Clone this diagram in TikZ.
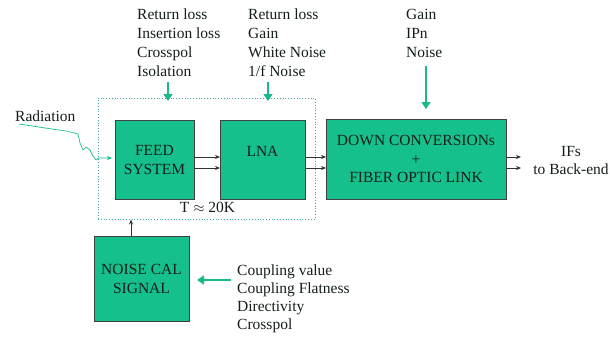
\documentclass[tikz,border=0pt]{standalone}
\usepackage{fontspec}
\setmainfont{Liberation Serif}
\usetikzlibrary{arrows.meta}
\definecolor{boxgreen}{RGB}{22,192,140}
\definecolor{teal2}{RGB}{25,185,140}
\definecolor{dotc}{RGB}{60,170,175}
\definecolor{txt}{RGB}{20,30,25}
\begin{document}
\begin{tikzpicture}[x=1pt,y=-1pt,
  blk/.style={draw=black!75,line width=0.8pt,fill=boxgreen,inner sep=0pt},
  btxt/.style={text=txt,font=\fontsize{15.5}{19}\selectfont,align=center,inner sep=0pt},
  lbl/.style={align=left,anchor=north west,text=txt,font=\fontsize{15.5}{19}\selectfont,inner sep=0pt},
  conn/.style={draw=black!80,line width=0.7pt,-{Stealth[length=5pt,width=4pt]}},
  ann/.style={draw=teal2,line width=1.6pt,-{Triangle[length=7pt,width=9pt]}}]
\useasboundingbox (0,0) rectangle (610,337);
% dotted enclosure
\node[draw=dotc,dotted,line width=0.8pt,minimum width=217pt,minimum height=121pt,inner sep=0pt] (encl) at (206.5,158.5) {};
% blocks
\node[blk,minimum width=79pt,minimum height=79pt] (feed) at (154.5,159.5) {};
\node[btxt] (feedt) at (154.5,159.5) {FEED\\SYSTEM};
\node[blk,minimum width=85pt,minimum height=79pt] (lna) at (262.5,159.5) {};
\node[btxt] (lnat) at (262.5,151) {LNA};
\node[blk,minimum width=180pt,minimum height=80pt] (down) at (416,159) {};
\node[btxt,font=\fontsize{15.5}{18.5}\selectfont] (downt) at (416,159) {DOWN CONVERSIONs\\+\\FIBER OPTIC LINK};
\node[blk,minimum width=95pt,minimum height=85pt] (cal) at (141.5,278.5) {};
\node[btxt] (calt) at (141.5,279) {NOISE CAL\\SIGNAL};
% connectors between blocks
\coordinate (f1) at (194,157); \coordinate (f2) at (194,168);
\coordinate (l1) at (220,157); \coordinate (l2) at (220,168);
\coordinate (m1) at (305,157); \coordinate (m2) at (305,168);
\coordinate (d1) at (326,157); \coordinate (d2) at (326,168);
\coordinate (o1) at (506,157); \coordinate (o2) at (506,168);
\coordinate (e1) at (521,157); \coordinate (e2) at (521,168);
\draw[conn] (f1) -- (l1); \draw[conn] (f2) -- (l2);
\draw[conn] (m1) -- (d1); \draw[conn] (m2) -- (d2);
\draw[conn] (o1) -- (e1); \draw[conn] (o2) -- (e2);
% output label
\node[btxt,font=\fontsize{15.5}{18}\selectfont] (ifs) at (571,160) {IFs\\to Back-end};
% noise cal to enclosure
\coordinate (calup) at (131,236);
\coordinate (enclb) at (131,219.5);
\draw[conn] (calup) -- (enclb);
% radiation
\node[text=txt,font=\fontsize{15.5}{19}\selectfont,anchor=west,inner sep=0pt] (rad) at (15,116) {Radiation};
\coordinate (radend) at (112,158);
\draw[draw=teal2,line width=0.7pt,-{Stealth[length=5pt,width=4pt]}]
  (19,124) -- (45,128) -- (66,131) -- (78,134) -- (80,143) -- (83,150) -- (86,147) -- (90,150) -- (93,156) -- (96,160) -- (99,158) -- (radend);
% T label
\node[btxt] (tlab) at (207.5,207) {T $\approx$ 20K};
% top annotations
\node[lbl] (a1) at (137,9) {Return loss\\Insertion loss\\Crosspol\\Isolation};
\node[lbl] (a2) at (248,9) {Return loss\\Gain\\White Noise\\1/f Noise};
\node[lbl] (a3) at (406,9) {Gain\\IPn\\Noise};
\coordinate (a1s) at (168,82); \coordinate (a1e) at (168,101);
\coordinate (a2s) at (268,82); \coordinate (a2e) at (268,101);
\coordinate (a3s) at (426,66); \coordinate (a3e) at (426,109);
\draw[ann] (a1s) -- (a1e);
\draw[ann] (a2s) -- (a2e);
\draw[ann] (a3s) -- (a3e);
% bottom annotation
\node[lbl,font=\fontsize{15.5}{18}\selectfont] (b1) at (237,265) {Coupling value\\Coupling Flatness\\Directivity\\Crosspol};
\coordinate (b1s) at (231,280); \coordinate (b1e) at (197,280);
\draw[ann] (b1s) -- (b1e);
\end{tikzpicture}
\end{document}
